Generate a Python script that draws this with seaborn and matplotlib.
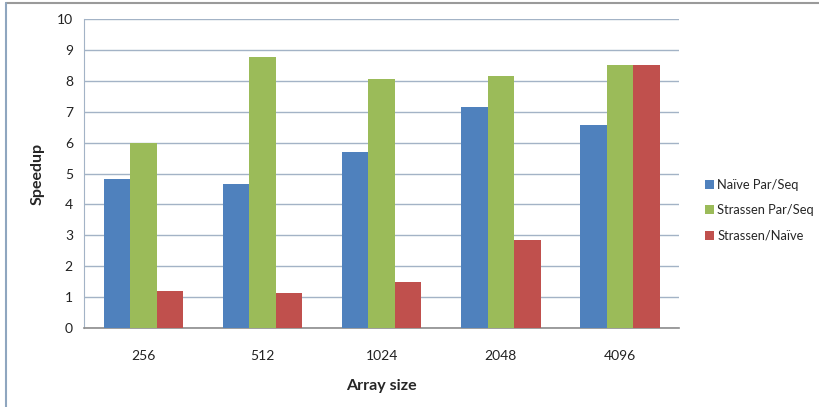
import pandas as pd
import matplotlib.pyplot as plt
import seaborn as sns
from matplotlib.lines import Line2D

# data
sizes = ["256", "512", "1024", "2048", "4096"]
naive_par_seq = [4.82, 4.66, 5.70, 7.16, 6.58]
strassen_par_seq = [5.99, 8.77, 8.07, 8.17, 8.53]
strassen_naive = [1.20, 1.14, 1.50, 2.84, 8.53]
series = ["Naïve Par/Seq", "Strassen Par/Seq", "Strassen/Naïve"]

df = pd.DataFrame({
    "size": sizes * 3,
    "speedup": naive_par_seq + strassen_par_seq + strassen_naive,
    "series": [series[0]] * 5 + [series[1]] * 5 + [series[2]] * 5,
})

sns.set_style("white")
plt.rcParams['font.family'] = ['Lato', 'DejaVu Sans']

fig = plt.figure(figsize=(8.19, 4.07), dpi=100)
ax = fig.add_axes([0.1026, 0.194, 0.727, 0.759])

colors = ["#4F81BD", "#9BBB59", "#C0504D"]
sns.barplot(data=df, x="size", y="speedup", hue="series", order=sizes,
            hue_order=series, palette=colors, width=0.667, gap=0,
            linewidth=0, saturation=1, ax=ax, zorder=3)

ax.set_ylim(0, 10)
ax.set_yticks(range(0, 11))
ax.set_xlim(-0.5, 4.5)
ax.yaxis.grid(True, color="#A3B3C6", linewidth=1.0, zorder=0)
ax.set_axisbelow(True)
ax.tick_params(axis="y", length=4, width=1, color="#A3B3C6", pad=4, labelsize=10)
ax.tick_params(axis="x", length=0, pad=16, labelsize=10)
for lab in ax.get_yticklabels() + ax.get_xticklabels():
    lab.set_color("#222222")

for s in ["top", "right"]:
    ax.spines[s].set_visible(False)
ax.spines["left"].set_color("#A3B3C6")
ax.spines["bottom"].set_color("#8C8C8C")
ax.spines["bottom"].set_linewidth(1.2)

ax.set_xlabel("Array size", fontsize=11.5, fontweight="bold", labelpad=12)
ax.set_ylabel("Speedup", fontsize=11.5, fontweight="bold", labelpad=9)

ax.legend(loc="upper left", bbox_to_anchor=(1.035, 0.50), frameon=False,
          fontsize=9.3, handlelength=0.7, handleheight=0.7, handletextpad=0.2,
          labelspacing=1.05, borderaxespad=0)

# chart frame (top and left only visible in the reference)
fig.add_artist(Line2D([0.007, 1.0], [0.993, 0.993], color="#9A9A9A", linewidth=1.5))
fig.add_artist(Line2D([0.0075, 0.0075], [0.0, 0.993], color="#8FA6BF", linewidth=1.5))

fig.savefig("out.png", dpi=100)
